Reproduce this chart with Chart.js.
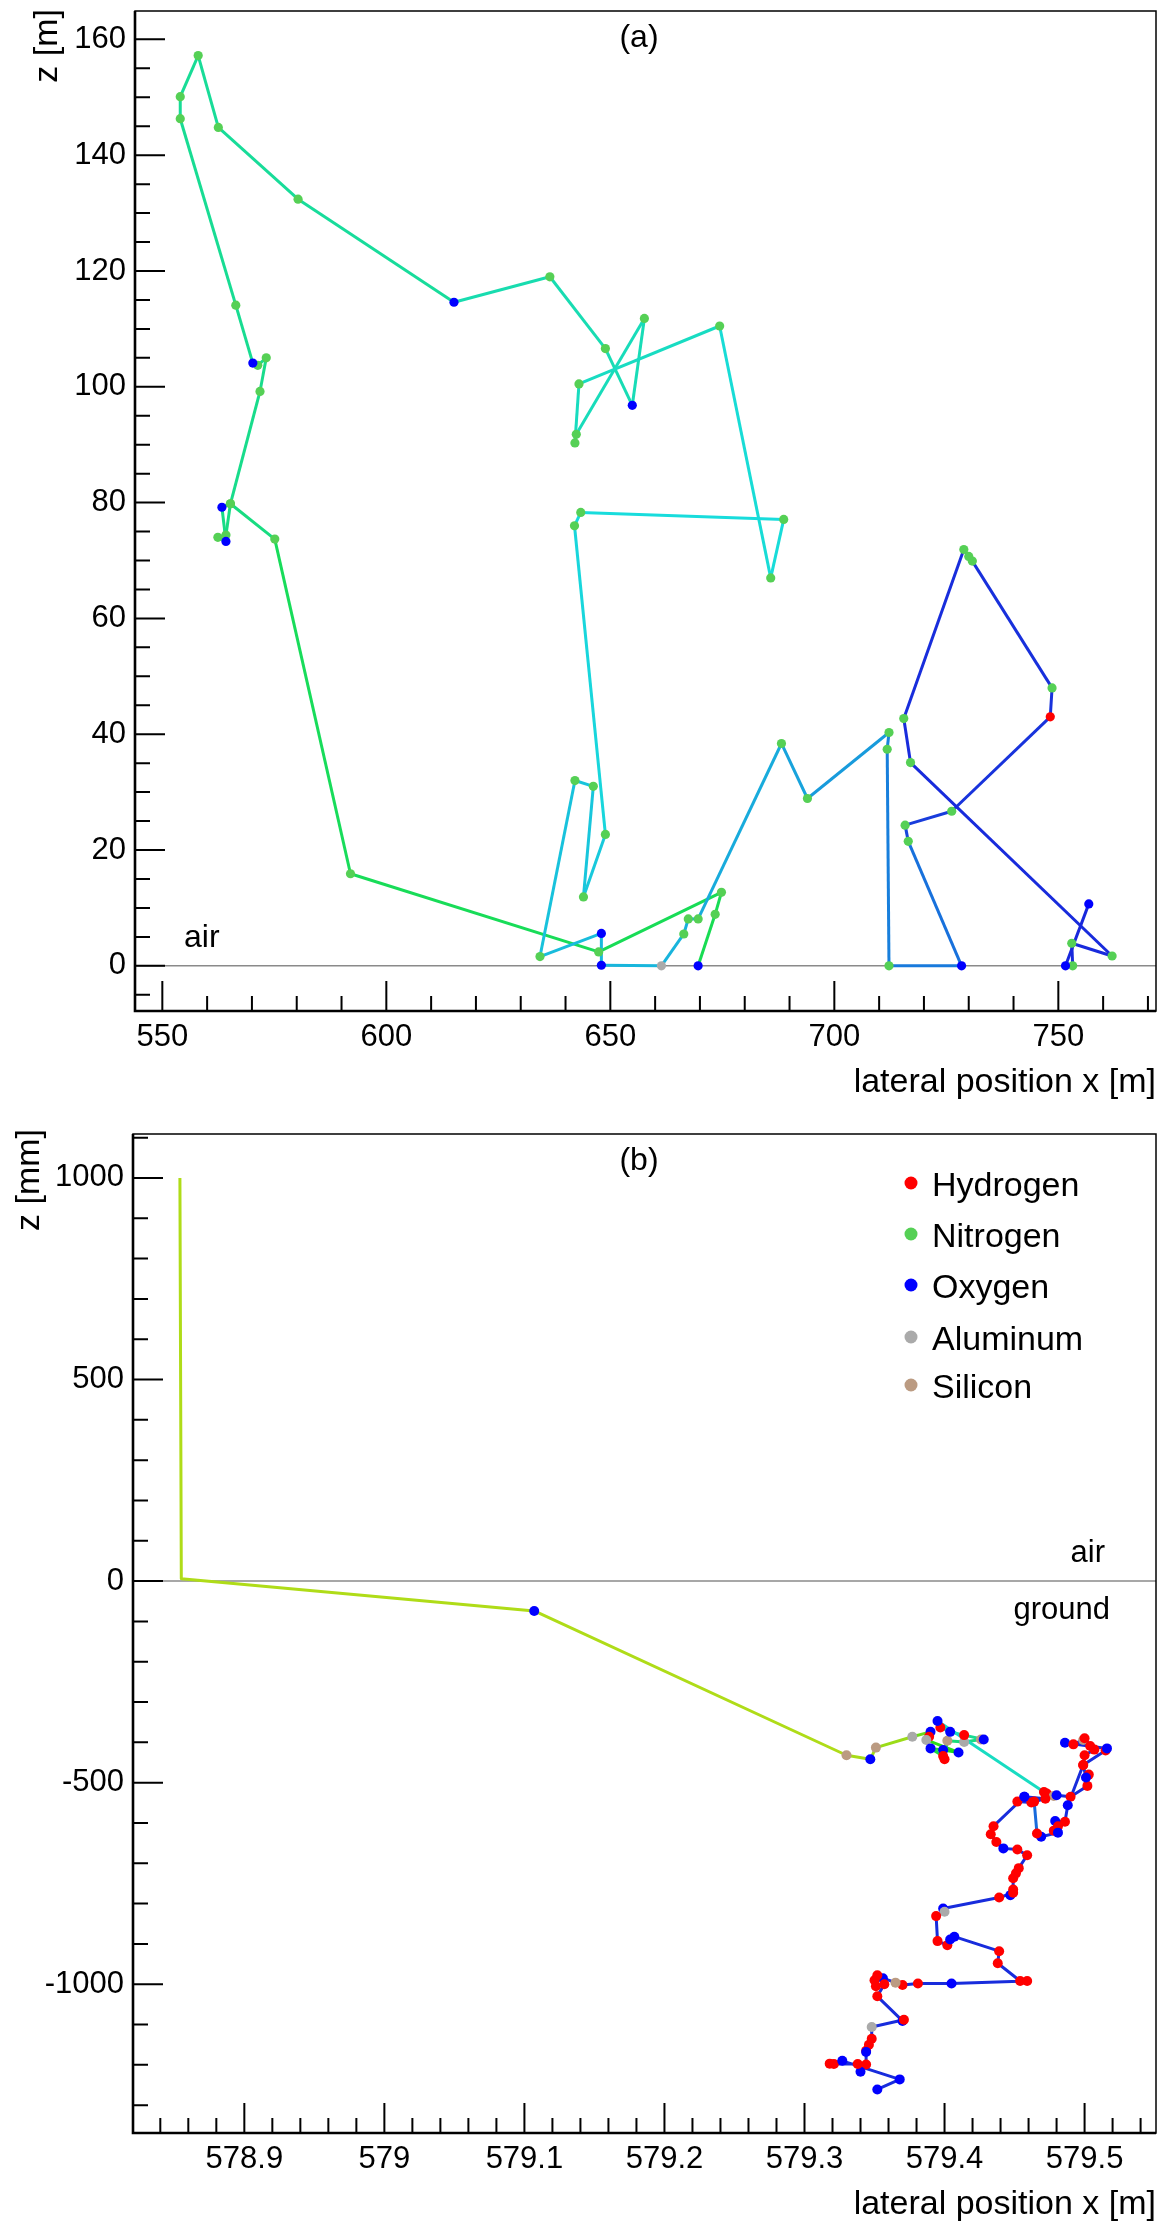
<!DOCTYPE html>
<html>
<head>
<meta charset="utf-8">
<script src="https://cdn.jsdelivr.net/npm/chart.js@4.4.1/dist/chart.umd.min.js"></script>
<style>
  html, body { margin: 0; padding: 0; background: #fff; }
  canvas { position: absolute; left: 0; display: block; }
  #chartA { top: 0; }
  #chartB { top: 1120px; }
</style>
</head>
<body>
<canvas id="chartA" width="1167" height="1120" style="width:1167px;height:1120px"></canvas>
<canvas id="chartB" width="1167" height="1114" style="width:1167px;height:1114px"></canvas>
<script>
// ---- panel (a): trajectory in air, metres ----
const pathAX = [669.6, 673.4, 674.8, 647.4, 592.0, 575.1, 565.2, 564.2, 562.4, 564.2,
                563.3, 565.2, 571.8, 573.2, 571.3, 570.2, 566.4, 554.0, 554.0, 558.0,
                562.5, 580.3, 615.1, 636.5, 648.9, 654.9, 657.6, 642.4, 642.1, 643.0,
                674.4, 685.8, 688.7, 643.4, 642.0, 648.9, 644.0, 646.2, 642.1, 634.3,
                648.0, 648.0, 661.4, 666.4, 667.4, 669.6, 688.2, 694.0, 712.2, 711.8,
                712.2, 728.4, 716.5, 715.8, 726.2, 748.2, 748.6, 730.8, 730.0, 728.9,
                715.5, 717.0, 762.0, 753.0, 753.2, 751.6, 756.8];
const pathAZ = [0.0, 8.9, 12.7, 2.4, 15.9, 73.7, 79.8, 74.4, 74.0, 73.3,
                79.2, 79.8, 99.2, 105.0, 103.7, 104.1, 114.1, 146.3, 150.1, 157.2,
                144.8, 132.4, 114.6, 119.0, 106.6, 96.8, 111.8, 91.8, 90.3, 100.5,
                110.5, 67.0, 77.1, 78.3, 76.0, 22.7, 11.9, 31.0, 32.0, 1.6,
                5.6, 0.1, 0.0, 5.5, 8.1, 8.1, 38.4, 28.9, 40.3, 37.4,
                0.0, 0.0, 21.5, 24.3, 26.7, 43.0, 48.0, 69.9, 70.7, 71.9,
                42.7, 35.1, 1.7, 3.9, 0.0, 0.0, 10.7];
const pathAElem = ['O', 'N', 'N', 'N', 'N', 'N', 'N', 'N', 'N', 'O',
                   'O', 'N', 'N', 'N', 'N', 'O', 'N', 'N', 'N', 'N',
                   'N', 'N', 'O', 'N', 'N', 'O', 'N', 'N', 'N', 'N',
                   'N', 'N', 'N', 'N', 'N', 'N', 'N', 'N', 'N', 'N',
                   'O', 'O', 'Al', 'N', 'N', 'N', 'N', 'N', 'N', 'N',
                   'N', 'O', 'N', 'N', 'N', 'H', 'N', 'N', 'N', 'N',
                   'N', 'N', 'N', 'N', 'N', 'O', 'O'];
const xTicksA = [550, 600, 650, 700, 750];
const yTicksA = [0, 20, 40, 60, 80, 100, 120, 140, 160];

// ---- panel (b): trajectory into the ground, x in metres, z in millimetres ----
const pathBX = [578.854, 578.855, 579.107, 579.330, 579.347, 579.351, 579.377, 579.390, 579.389, 579.387,
                579.410, 579.399, 579.390, 579.399, 579.400, 579.402, 579.414, 579.426, 579.428, 579.414,
                579.404, 579.397, 579.395, 579.471, 579.473, 579.478, 579.480, 579.490, 579.502, 579.503,
                579.501, 579.499, 579.515, 579.516, 579.486, 579.492, 579.499, 579.500, 579.504, 579.507,
                579.500, 579.499, 579.488, 579.486, 579.479, 579.481, 579.478, 579.481, 579.469, 579.466,
                579.464, 579.457, 579.452, 579.462, 579.472, 579.457, 579.435, 579.433, 579.437, 579.442,
                579.452, 579.459, 579.453, 579.451, 579.449, 579.449, 579.447, 579.449, 579.439, 579.399,
                579.400, 579.394, 579.395, 579.402, 579.404, 579.407, 579.439, 579.438, 579.454, 579.459,
                579.405, 579.381, 579.370, 579.365, 579.356, 579.352, 579.350, 579.351, 579.357, 579.352,
                579.370, 579.371, 579.348, 579.348, 579.346, 579.344, 579.344, 579.344, 579.340, 579.338,
                579.321, 579.318, 579.327, 579.368, 579.352];
const pathBZ = [1000, 6, -74, -432, -442, -413, -386, -374, -386, -394,
                -425, -419, -415, -434, -442, -396, -399, -393, -393, -382,
                -374, -363, -347, -523, -527, -533, -531, -535, -508, -480,
                -487, -456, -420, -415, -401, -405, -394, -390, -409, -418,
                -432, -456, -556, -597, -595, -608, -619, -624, -634, -626,
                -547, -535, -547, -549, -540, -535, -608, -628, -647, -663,
                -666, -680, -712, -725, -737, -765, -779, -773, -785, -812,
                -820, -831, -893, -903, -889, -882, -918, -948, -992, -992,
                -998, -998, -1002, -996, -985, -978, -990, -1005, -1000, -1030,
                -1091, -1088, -1106, -1135, -1150, -1165, -1168, -1199, -1217, -1198,
                -1198, -1197, -1190, -1236, -1261];
const pathBElem = ['', '', 'O', 'Si', 'O', 'Si', 'Al', 'O', 'H', 'Al',
                   'O', 'O', 'O', 'H', 'H', 'Si', 'Al', 'Si', 'O', 'H',
                   'O', 'H', 'O', 'H', 'H', 'Si', 'O', 'H', 'H', 'H',
                   'O', 'H', 'H', 'O', 'O', 'H', 'Si', 'H', 'H', 'H',
                   'H', 'H', 'O', 'H', 'O', 'H', 'H', 'O', 'O', 'H',
                   'H', 'O', 'H', 'H', 'H', 'O', 'H', 'H', 'H', 'O',
                   'H', 'H', 'H', 'H', 'H', 'H', 'O', 'H', 'H', 'O',
                   'Al', 'H', 'H', 'H', 'O', 'O', 'H', 'H', 'H', 'H',
                   'O', 'H', 'H', 'Si', 'O', 'H', 'H', 'H', 'H', 'H',
                   'O', 'H', 'Al', 'H', 'H', 'H', 'O', 'H', 'O', 'H',
                   'H', 'H', 'O', 'O', 'O'];
const xTicksB = [578.9, 579.0, 579.1, 579.2, 579.3, 579.4, 579.5];
const xLabelsB = ['578.9', '579', '579.1', '579.2', '579.3', '579.4', '579.5'];
const yTicksB = [-1000, -500, 0, 500, 1000];
const yLabelsB = ['-1000', '-500', '0', '500', '1000'];

const legendCodes = ['H', 'N', 'O', 'Al', 'Si'];
const legendNames = ['Hydrogen', 'Nitrogen', 'Oxygen', 'Aluminum', 'Silicon'];

// ---- styling ----
const FONT = '"Liberation Sans", Arial, Helvetica, sans-serif';
const elemColor = { H: '#ff0000', N: '#55d055', O: '#0000ff', Al: '#aaaaaa', Si: '#bb9b82' };
// colour of the track along the path (segment index -> hue)
const hueStopsA = [[0, 138], [4, 140], [5, 152], [21, 160], [22, 166], [29, 172], [30, 178], [34, 182],
                   [35, 186], [38, 188], [39, 190], [45, 195], [47, 200], [48, 207], [50, 210],
                   [51, 213], [52, 226], [54, 232], [66, 236]];
const hueStopsB = [[0, 74], [2, 74], [5, 80], [6, 95], [10, 120], [15, 150], [21, 165], [22, 172],
                   [23, 234], [47, 234], [48, 215], [50, 215], [51, 234], [104, 234]];

function hueAt(stops, i) {
  for (let k = 1; k < stops.length; k++) {
    if (i <= stops[k][0]) {
      const [i0, h0] = stops[k - 1], [i1, h1] = stops[k];
      return h0 + (h1 - h0) * (i - i0) / ((i1 - i0) || 1);
    }
  }
  return stops[stops.length - 1][1];
}

// ROOT-like frame: inside ticks, zero line, free texts, legend
const rootFrame = {
  id: 'rootFrame',
  beforeDatasetsDraw(chart, args, o) {
    const { ctx, chartArea: a, scales: { y } } = chart;
    const y0 = y.getPixelForValue(0);
    ctx.save();
    ctx.strokeStyle = '#8a8a8a';
    ctx.lineWidth = 1.5;
    ctx.beginPath();
    ctx.moveTo(a.left, y0);
    ctx.lineTo(a.right, y0);
    ctx.stroke();
    ctx.restore();
  },
  afterDraw(chart, args, o) {
    const { ctx, chartArea: a, scales: { x, y } } = chart;
    ctx.save();
    // thin frame
    ctx.strokeStyle = '#000';
    ctx.lineWidth = 1.5;
    ctx.strokeRect(a.left, a.top, a.right - a.left, a.bottom - a.top);
    // thick axes
    ctx.lineWidth = 2.6;
    ctx.beginPath();
    ctx.moveTo(a.left, a.top);
    ctx.lineTo(a.left, a.bottom);
    ctx.lineTo(a.right, a.bottom);
    ctx.stroke();
    // ticks
    ctx.lineWidth = 2;
    const minors = (s, step) => {
      const out = [];
      for (let i = Math.ceil(s.min / step - 1e-9); i * step <= s.max + 1e-9; i++) out.push(i * step);
      return out;
    };
    ctx.beginPath();
    minors(x, o.xMinor).forEach(v => {
      const px = x.getPixelForValue(v);
      const major = o.xMajor.some(m => Math.abs(m - v) < o.xMinor / 10);
      ctx.moveTo(px, a.bottom);
      ctx.lineTo(px, a.bottom - (major ? 30 : 15));
    });
    minors(y, o.yMinor).forEach(v => {
      const py = y.getPixelForValue(v);
      const major = o.yMajor.some(m => Math.abs(m - v) < o.yMinor / 10);
      ctx.moveTo(a.left, py);
      ctx.lineTo(a.left + (major ? 30 : 15), py);
    });
    ctx.stroke();
    // texts (page coordinates)
    ctx.fillStyle = '#000';
    o.texts.forEach(t => {
      ctx.save();
      ctx.font = t.size + 'px ' + FONT;
      ctx.textAlign = t.align || 'left';
      ctx.textBaseline = t.base || 'alphabetic';
      ctx.translate(t.x, t.y - o.top);
      if (t.rot) ctx.rotate(-Math.PI / 2);
      ctx.fillText(t.text, 0, 0);
      ctx.restore();
    });
    // legend
    if (o.legend) {
      const L = o.legend;
      legendCodes.forEach((c, i) => {
        const cy = L.y[i] - o.top;
        ctx.fillStyle = elemColor[c];
        ctx.beginPath();
        ctx.arc(L.dotX, cy, 6.5, 0, Math.PI * 2);
        ctx.fill();
        ctx.fillStyle = '#000';
        ctx.font = '34px ' + FONT;
        ctx.textAlign = 'left';
        ctx.textBaseline = 'alphabetic';
        ctx.fillText(legendNames[i], L.textX, cy + 12.5);
      });
    }
    ctx.restore();
  }
};

function makeChart(id, px, pz, pe, hueStops, radius, sc, frame, layoutPad) {
  const pts = px.map((v, i) => ({ x: v, y: pz[i] }));
  const tickFont = { family: FONT, size: 31 };
  return new Chart(document.getElementById(id), {
    type: 'scatter',
    data: {
      datasets: [{
        data: pts,
        showLine: true,
        borderWidth: 3,
        borderJoinStyle: 'round',
        borderColor: 'hsl(200,80%,48%)',
        segment: { borderColor: c => 'hsl(' + hueAt(hueStops, c.p0DataIndex).toFixed(1) + ',80%,48%)' },
        pointRadius: c => pe[c.dataIndex] ? radius : 0,
        pointBackgroundColor: c => elemColor[pe[c.dataIndex]] || 'transparent',
        pointBorderWidth: 0,
        pointHoverRadius: 0
      }]
    },
    options: {
      responsive: false,
      animation: false,
      events: [],
      layout: { padding: layoutPad },
      plugins: { legend: { display: false }, tooltip: { enabled: false }, rootFrame: frame },
      scales: {
        x: {
          type: 'linear', min: sc.xMin, max: sc.xMax,
          grid: { display: false, drawTicks: false }, border: { display: false },
          afterBuildTicks: s => { s.ticks = sc.xTicks.map(v => ({ value: v })); },
          afterFit: s => { s.height = sc.xH; s.paddingLeft = 0; s.paddingRight = 0; },
          ticks: { font: tickFont, color: '#000', padding: sc.xPad, maxRotation: 0, autoSkip: false,
                   callback: (v, i) => sc.xLabels[i] }
        },
        y: {
          type: 'linear', min: sc.yMin, max: sc.yMax,
          grid: { display: false, drawTicks: false }, border: { display: false },
          afterBuildTicks: s => { s.ticks = sc.yTicks.map(v => ({ value: v })); },
          afterFit: s => { s.width = sc.yW; s.paddingTop = 0; s.paddingBottom = 0; },
          ticks: { font: tickFont, color: '#000', padding: 9, autoSkip: false,
                   callback: (v, i) => sc.yLabels[i] }
        }
      }
    },
    plugins: [rootFrame]
  });
}

makeChart('chartA', pathAX, pathAZ, pathAElem, hueStopsA, 4.6,
  { xMin: 543.9, xMax: 771.8, yMin: -7.8, yMax: 164.9, xTicks: xTicksA, xLabels: xTicksA.map(String),
    yTicks: yTicksA, yLabels: yTicksA.map(String), xH: 109, yW: 135, xPad: 8 },
  { top: 0, xMajor: xTicksA, xMinor: 10, yMajor: yTicksA, yMinor: 5,
    texts: [
      { text: '(a)', x: 639, y: 38, size: 32, align: 'center', base: 'middle' },
      { text: 'air', x: 184, y: 947, size: 32 },
      { text: 'lateral position x [m]', x: 1156, y: 1092, size: 34, align: 'right' },
      { text: 'z [m]', x: 57, y: 9, size: 34, align: 'right', rot: true }
    ] },
  { top: 11, right: 11, left: 0, bottom: 0 });

makeChart('chartB', pathBX, pathBZ, pathBElem, hueStopsB, 5,
  { xMin: 578.8205, xMax: 579.551, yMin: -1369, yMax: 1109, xTicks: xTicksB, xLabels: xLabelsB,
    yTicks: yTicksB, yLabels: yLabelsB, xH: 101, yW: 133, xPad: 8 },
  { top: 1120, xMajor: xTicksB, xMinor: 0.02, yMajor: yTicksB, yMinor: 100,
    texts: [
      { text: '(b)', x: 639, y: 1161, size: 32, align: 'center', base: 'middle' },
      { text: 'air', x: 1105, y: 1562, size: 31, align: 'right' },
      { text: 'ground', x: 1110, y: 1619, size: 31, align: 'right' },
      { text: 'lateral position x [m]', x: 1156, y: 2214, size: 34, align: 'right' },
      { text: 'z [mm]', x: 39, y: 1129, size: 34, align: 'right', rot: true }
    ],
    legend: { dotX: 911, textX: 932, y: [1183, 1234, 1285, 1337, 1385] } },
  { top: 14, right: 11, left: 0, bottom: 0 });
</script>
</body>
</html>
